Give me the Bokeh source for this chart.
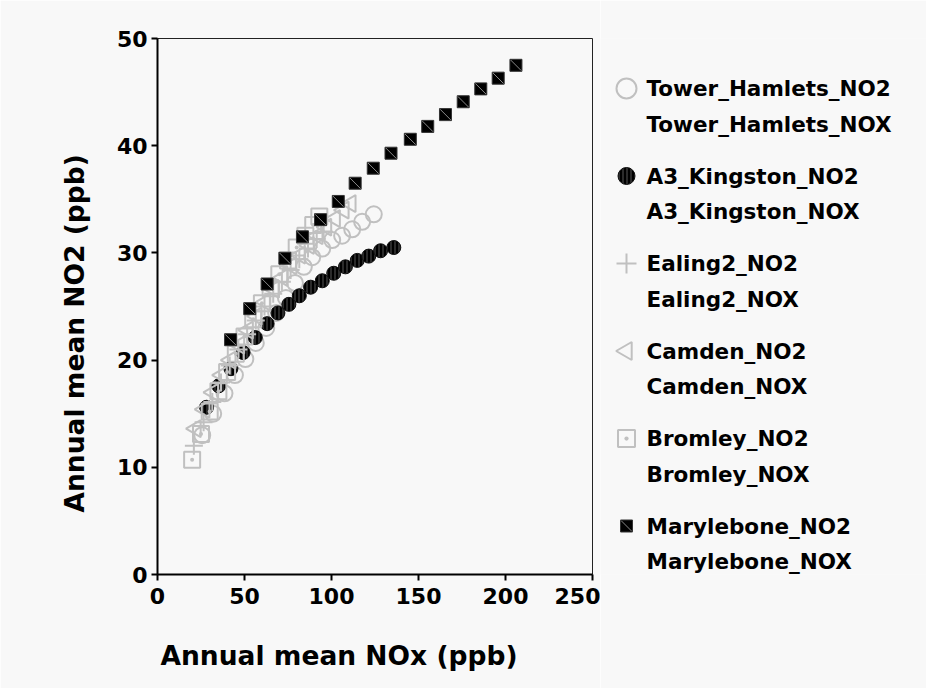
from bokeh.plotting import figure
from bokeh.models import Range1d, FixedTicker, Title
from bokeh.layouts import row
from bokeh.core.properties import value
from bokeh.embed import file_html
from bokeh.resources import INLINE
import math

# ---- data ----
tower_nox = [25.7, 32.0, 38.5, 44.5, 50.5, 56.5, 62.5, 68.2, 73.8, 79.0, 84.1, 88.9, 94.7, 100.4, 106.1, 111.9, 117.6, 124.3]
tower_no2 = [13.0, 15.0, 16.9, 18.6, 20.1, 21.6, 23.0, 24.4, 25.8, 27.2, 28.7, 29.6, 30.4, 31.2, 31.6, 32.2, 32.9, 33.6]

kingston_nox = [28.2, 35.2, 42.2, 49.2, 56.2, 63.0, 69.2, 75.5, 81.5, 88.0, 94.7, 101.3, 108.0, 114.8, 121.4, 128.2, 135.8]
kingston_no2 = [15.6, 17.6, 19.2, 20.7, 22.1, 23.4, 24.4, 25.2, 26.0, 26.8, 27.4, 28.1, 28.7, 29.3, 29.7, 30.2, 30.5]

ealing_nox = [20.9, 26.5, 31.5, 36.5, 41.5, 46.5, 51.5, 56.5, 61.5, 66.5, 71.5, 76.5, 81.5, 86.5, 91.5, 95.5]
ealing_no2 = [12.0, 14.2, 16.1, 17.9, 19.5, 21.0, 22.4, 23.7, 25.0, 26.2, 27.3, 28.4, 29.4, 30.4, 31.3, 32.0]

camden_nox = [22, 27, 32, 37, 42, 47, 52, 57, 62, 67, 72, 77, 82, 87, 92, 97, 102, 107, 111]
camden_no2 = [13.6, 15.4, 17.0, 18.6, 20.0, 21.4, 22.8, 24.1, 25.4, 26.6, 27.7, 28.8, 29.8, 30.7, 31.6, 32.4, 33.2, 34.0, 34.6]

bromley_nox = [19.9, 25.0, 30.0, 35.0, 40.0, 45.0, 50.0, 55.0, 60.0, 65.0, 70.0, 75.0, 80.0, 85.0, 89.5, 93.0]
bromley_no2 = [10.7, 13.1, 15.2, 17.1, 18.9, 20.6, 22.2, 23.8, 25.3, 26.7, 28.0, 29.3, 30.5, 31.6, 32.6, 33.4]

maryl_nox = [42.0, 53.0, 63.0, 73.2, 83.3, 93.7, 103.9, 113.6, 124.0, 134.2, 145.3, 155.3, 165.5, 175.7, 185.8, 195.8, 206.0]
maryl_no2 = [21.9, 24.8, 27.1, 29.5, 31.5, 33.1, 34.8, 36.5, 37.9, 39.3, 40.6, 41.8, 42.9, 44.1, 45.3, 46.3, 47.5]

no2_names = ["Tower_Hamlets_NO2", "A3_Kingston_NO2", "Ealing2_NO2", "Camden_NO2", "Bromley_NO2", "Marylebone_NO2"]
nox_names = ["Tower_Hamlets_NOX", "A3_Kingston_NOX", "Ealing2_NOX", "Camden_NOX", "Bromley_NOX", "Marylebone_NOX"]

x_ticks = [0, 50, 100, 150, 200, 250]
y_ticks = [0, 10, 20, 30, 40, 50]
x_title = "Annual mean NOx (ppb)"
y_title = "Annual mean NO2 (ppb)"

BG = "#f8f8f8"
GREY = "#c0c0c0"
FONT = "DejaVu Sans"
H = 688

styles = [
    dict(marker="circle", size=16, fill_color=None, line_color=GREY, line_width=2),
    dict(marker="circle", size=14, fill_color="black", line_color="#111111", line_width=1,
         hatch_pattern="|", hatch_color="#555555", hatch_scale=4, hatch_weight=1),
    dict(marker="cross", size=18, line_color=GREY, line_width=2),
    dict(marker="triangle", angle=math.pi / 2, size=17, fill_color=None, line_color=GREY, line_width=2),
    dict(marker="square_dot", size=16, fill_color=None, line_color=GREY, line_width=2),
    dict(marker="square", size=12, fill_color="black", line_color="#333333", line_width=1),
]
legend_sizes = [20, 17, 20, 18, 17, 12]
series = [(tower_nox, tower_no2), (kingston_nox, kingston_no2), (ealing_nox, ealing_no2),
          (camden_nox, camden_no2), (bromley_nox, bromley_no2), (maryl_nox, maryl_no2)]
diag = dict(marker="dash", angle=-math.pi / 4, line_color="#8a8a8a", line_width=1)

# ---- main plot ----
p = figure(width=600, height=H, x_range=Range1d(0, 250), y_range=Range1d(0, 50),
           output_backend="svg", toolbar_location=None,
           min_border_left=157, min_border_right=8, min_border_top=38, min_border_bottom=H - 574,
           background_fill_color=BG, border_fill_color=BG)
p.grid.visible = False
p.outline_line_color = "#222222"
p.outline_line_width = 1

p.xaxis.ticker = FixedTicker(ticks=x_ticks)
p.yaxis.ticker = FixedTicker(ticks=y_ticks)
for ax in (p.xaxis, p.yaxis):
    ax.axis_line_color = "black"
    ax.axis_line_width = 2
    ax.major_tick_line_color = "black"
    ax.major_tick_line_width = 2
    ax.major_tick_out = 6
    ax.major_tick_in = 0
    ax.minor_tick_line_color = None
    ax.major_label_text_font = FONT
    ax.major_label_text_font_style = "bold"
    ax.major_label_text_font_size = "22px"
    ax.major_label_text_color = "black"
p.xaxis.major_label_standoff = 7
p.yaxis.major_label_standoff = 4

for (xs, ys), st in zip(series, styles):
    p.scatter(xs, ys, **st)
p.scatter(maryl_nox, maryl_no2, size=15, **diag)

# spacer between the x axis and its title, then the title itself
p.add_layout(Title(text=" ", standoff=28, text_font_size="1px"), "below")
p.add_layout(Title(text=x_title, align="left", offset=3, standoff=0, text_font=FONT,
                   text_font_style="bold", text_font_size="26.5px", text_color="black"), "below")
p.add_layout(Title(text=y_title, align="left", offset=62, standoff=47, text_font=FONT,
                   text_font_style="bold", text_font_size="26.5px", text_color="black"), "left")

# ---- legend panel (its frame lines up with the main frame: y in page pixels) ----
q = figure(width=326, height=H, x_range=Range1d(0, 326), y_range=Range1d(574, 38),
           output_backend="svg", toolbar_location=None, x_axis_type=None, y_axis_type=None,
           min_border=0, background_fill_color=BG, border_fill_color=BG)
q.grid.visible = False
q.outline_line_color = None

first_y, pair_step, gap = 88, 87.5, 35.5
for i, st in enumerate(styles):
    yc = first_y + i * pair_step
    lst = dict(st)
    lst["size"] = legend_sizes[i]
    q.scatter([26], [yc], **lst)
    if i == 5:
        q.scatter([26], [yc], size=15, **diag)
    q.text([46, 46], [yc, yc + gap], text=[no2_names[i], nox_names[i]],
           text_font=value(FONT), text_font_style="bold", text_font_size="21.5px",
           text_color="black", text_baseline="middle", text_align="left")

layout = row(p, q)
open("out.html", "w").write(file_html(layout, INLINE))
